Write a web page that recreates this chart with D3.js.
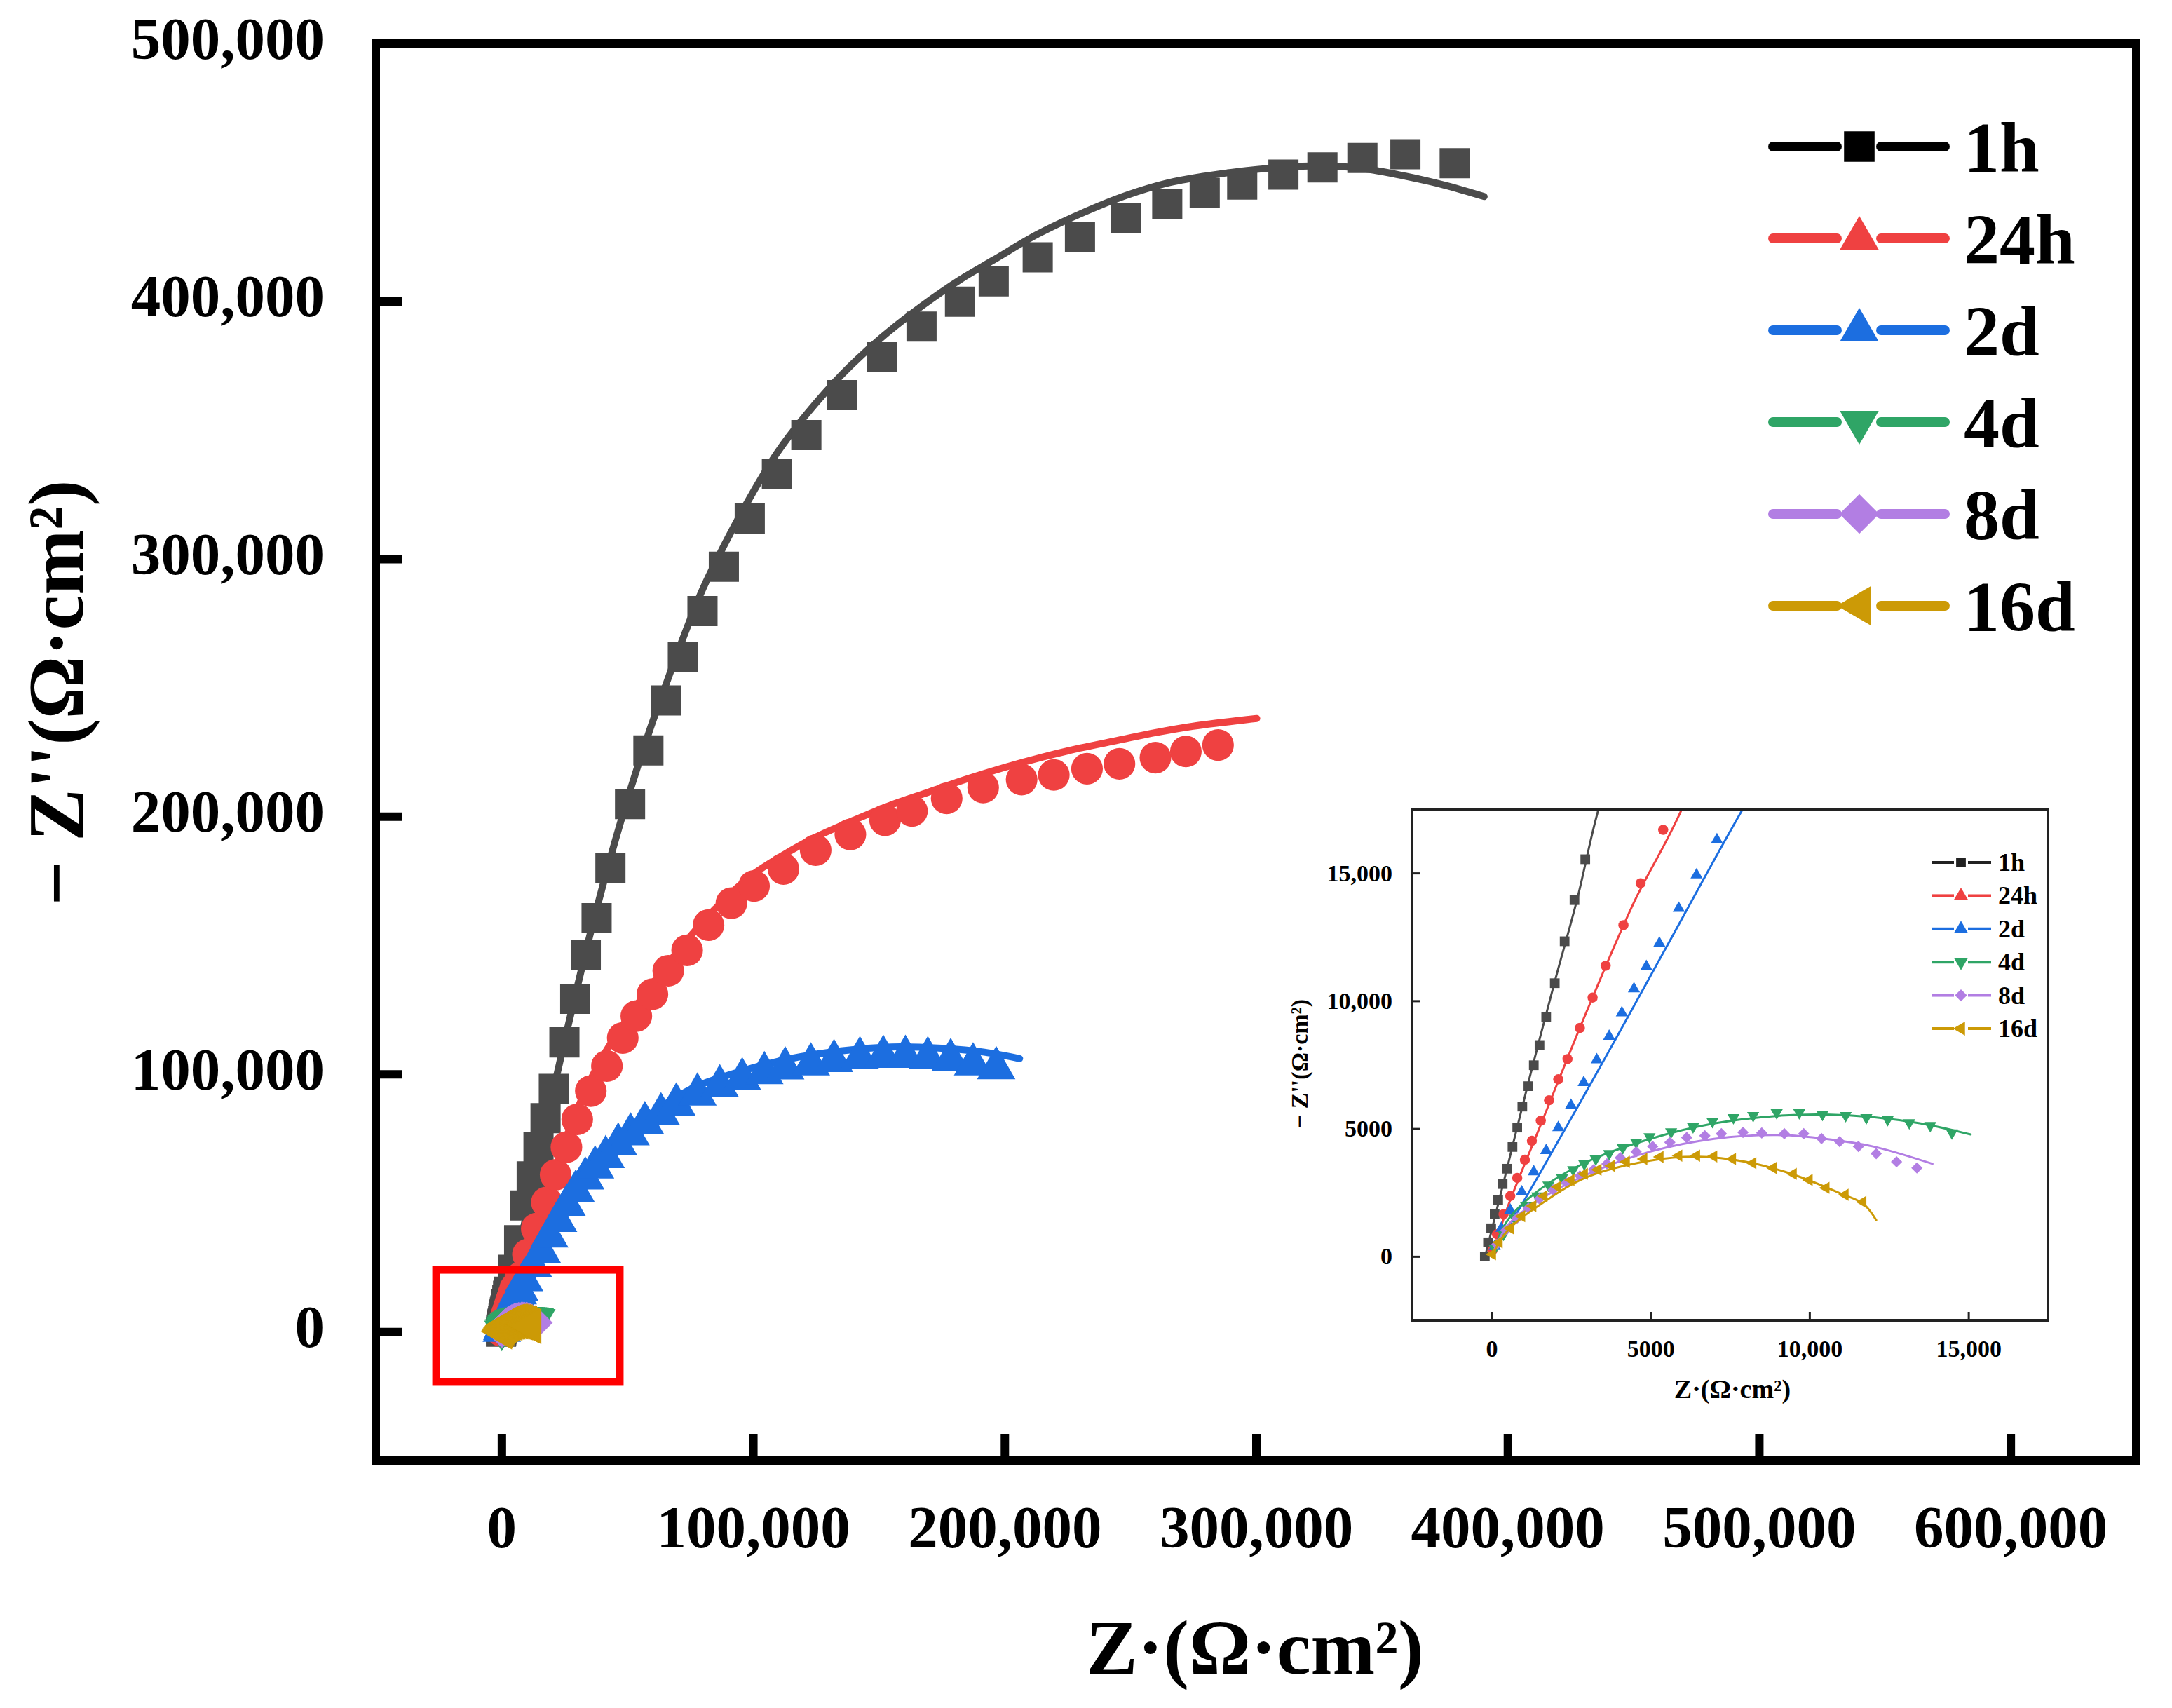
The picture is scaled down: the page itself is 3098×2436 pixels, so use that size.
<!DOCTYPE html>
<html>
<head>
<meta charset="utf-8">
<script src="https://cdn.jsdelivr.net/npm/d3@7"></script>
<style>
  body { margin: 0; background: #fff; }
  svg text { font-family: "Liberation Serif", "Times New Roman", serif; font-weight: bold; fill: #000; }
</style>
</head>
<body>
<svg id="chart" width="3098" height="2436"></svg>
<script>
const K = 1000;

const seriesNames = ["1h", "24h", "2d", "4d", "8d", "16d"];
const seriesColors = ["#4b4b4b", "#ef4141", "#1c6ee0", "#2fa566", "#b27ee3", "#cc9a06"];
const legendColors = ["#000000", "#ef4141", "#1c6ee0", "#2fa566", "#b27ee3", "#cc9a06"];
const markerShapes = ["square", "circle", "triangle", "triangleDown", "diamond", "triangleLeft"];
const legendShapes = ["square", "triangle", "triangle", "triangleDown", "diamond", "triangleLeft"];

const xTicksMain = [0, 100000, 200000, 300000, 400000, 500000, 600000];
const yTicksMain = [0, 100000, 200000, 300000, 400000, 500000];
const xTicksInset = [0, 5000, 10000, 15000];
const yTicksInset = [0, 5000, 10000, 15000];

// measured points
const pts1h = [[-0.21,0.0],[-0.11,0.55],[-0.01,1.10],[0.10,1.65],[0.21,2.20],[0.35,2.83],[0.49,3.43],[0.66,4.28],
  [0.81,5.04],[0.97,5.86],[1.16,6.66],[1.33,7.48],[1.51,8.27],[1.72,9.37],[1.99,10.69],[2.30,12.33],[2.61,13.94],
  [2.95,15.54],[4.5,24],[7,35.5],[9.5,49],[12,60.3],[14.7,71.6],[17.5,82.9],[20.8,94.2],[25.0,112.3],[29.3,129.2],
  [33.5,146.1],[37.8,160.5],[43.3,180],[51.1,204.8],[58.4,225.6],[65.3,245],[72.1,261.9],[79.9,279.7],[88.4,296.9],
  [98.7,315.6],[109.5,333],[121.2,348],[135.3,363.5],[151.3,378.2],[167,390.1],[182.3,399.8],[195.7,407.7],
  [213.2,417],[230,424.8],[248.3,432.3],[264.7,437.8],[279.6,442],[294.5,445.2],[310.9,449.1],[326.4,451.9],
  [342.3,455.6],[359.4,457],[379,453.5]];
const pts24h = [[0.03,0.24],[0.17,0.87],[0.38,1.65],[0.59,2.36],[0.81,3.07],[1.05,3.78],[1.27,4.52],[1.55,5.31],
  [1.81,6.11],[2.10,6.93],[2.39,7.72],[2.78,8.94],[3.18,10.13],[3.59,11.37],[4.15,12.96],[4.69,14.60],[5.40,16.69],
  [7.5,21],[10.5,30],[14,40],[18,50.2],[21.5,60.9],[25.8,71.6],[30.1,82.4],[35.5,93.4],[41.9,103.1],[48.2,114],
  [53.6,122.5],[60,131],[66.3,140.1],[73.8,148],[82.3,157.8],[91.4,166.3],[100.4,173],[112.1,179.6],[124.9,186.9],
  [138.7,193],[152.5,198.5],[163.2,202.1],[177,207],[191.5,211.2],[206.8,214.3],[219.6,216.1],[232.8,218.5],
  [245.7,220.4],[260,222.8],[272.1,225.2],[284.9,227.7]];
const pts2d = [[0.10,0.39],[0.31,1.10],[0.59,1.81],[0.95,2.52],[1.33,3.31],[1.72,4.14],[2.10,5.04],[2.50,5.91],
  [2.90,6.80],[3.31,7.69],[3.70,8.61],[4.10,9.53],[4.48,10.47],[4.87,11.34],[5.28,12.25],[5.89,13.62],[6.45,14.93],
  [7.09,16.30],[9,20],[12.5,25.5],[16,31],[19,37],[22.5,43],[26,49],[29.5,54.5],[33.3,59.5],[37.2,63.8],[41.4,67.8],
  [46.4,72.7],[51.3,76.6],[57,81],[63.4,84.4],[69.5,88.2],[77.9,92.1],[86.8,95.3],[95.7,98],[104.5,100.4],
  [112.8,102.2],[123,103.8],[132.2,105.1],[142.5,106.2],[151.8,106.7],[160.6,106.7],[169.5,106.2],[178.6,105.5],
  [187.5,103.8],[196.7,102.3]];
const pts4d = [[0.10,0.31],[0.38,0.87],[0.73,1.50],[1.09,1.97],[1.44,2.36],[1.79,2.79],[2.22,3.07],[2.57,3.39],
  [2.92,3.62],[3.28,3.81],[3.70,4.02],[4.13,4.25],[4.55,4.46],[4.97,4.68],[5.65,4.87],[6.34,5.07],[6.95,5.28],
  [7.61,5.43],[8.23,5.51],[8.97,5.62],[9.68,5.62],[10.41,5.56],[11.14,5.51],[11.79,5.43],[12.46,5.35],[13.14,5.23],
  [13.80,5.12],[14.48,4.83]];
const pts8d = [[0.17,0.47],[0.45,1.02],[0.81,1.50],[1.16,1.89],[1.51,2.25],[1.94,2.60],[2.36,2.88],[2.78,3.15],
  [3.21,3.39],[3.63,3.62],[4.05,3.86],[4.55,4.09],[5.07,4.30],[5.61,4.46],[6.14,4.65],[6.71,4.72],[7.23,4.80],
  [7.91,4.85],[8.50,4.83],[9.21,4.80],[9.82,4.80],[10.38,4.61],[10.95,4.49],[11.54,4.30],[12.10,4.02],[12.74,3.70],
  [13.38,3.46]];
const pts16d = [[0.03,0.08],[0.24,0.55],[0.59,1.10],[0.95,1.57],[1.30,1.97],[1.65,2.36],[2.08,2.72],[2.50,2.99],
  [2.92,3.23],[3.35,3.39],[3.77,3.54],[4.24,3.70],[4.79,3.81],[5.30,3.89],[5.89,3.94],[6.45,3.94],[6.99,3.91],
  [7.58,3.81],[8.22,3.65],[8.86,3.46],[9.49,3.23],[9.99,2.99],[10.52,2.68],[11.12,2.41],[11.68,2.13]];

// fitted curves
const fit1h = [[-0.2,0],[0.5,3.5],[1.2,7],[2.0,10.8],[2.7,14],[3.35,17.43],[5,24],[10,46],[15,69],[20,91],[25,112.5],
  [29.3,130.5],[33.5,147.5],[37.8,164],[43.3,184],[51.1,210],[58.4,232],[65.3,251],[72.1,269],[79.9,288],[88.4,305],
  [98.7,323.6],[109.5,341],[121.2,356],[135.3,371.5],[151.3,386],[167,398],[182.3,408.3],[195.7,416],[213.2,426],
  [230,433.8],[248.3,441],[264.7,445.8],[279.6,448.5],[294.5,450.5],[310.9,452],[326.4,452.5],[342.3,451.5],
  [359.4,448.5],[375,445],[390.7,440.6]];
const fit24h = [[0,0],[0.5,1.9],[1.5,5.0],[3.0,9.6],[4.5,13.9],[5.96,17.43],[10,30],[14,42],[18,54],[22,65],[26,76],
  [30,86],[35,97],[41,108],[50,121.5],[60,135],[70,147.5],[80,159],[90,169],[100,177.5],[112,185],[125,192],
  [140,198.5],[155,204.5],[170,209.5],[185,214.5],[200,219],[215,223],[230,226.5],[245,229.5],[260,232.5],
  [275,235],[300.3,238]];
const fit2d = [[0,0],[1.5,3.2],[3.5,7.6],[5.5,12.1],[7.87,17.43],[11,24],[15,31.5],[20,41],[26,51],[33,61],[41,70],
  [51,79],[63,87],[77,95],[95,101],[115,106],[135,109],[155,110.5],[175,110],[192,108.5],[206,106]];
const fit4d = [[0,0],[0.5,1.4],[1.5,2.6],[3,3.7],[5,4.6],[7,5.2],[9,5.5],[10.5,5.55],[12,5.45],[13.5,5.2],[15.07,4.77]];
const fit8d = [[0,0],[0.5,1.2],[1.5,2.2],[3,3.2],[5,4.1],[7,4.6],[9,4.75],[10.5,4.6],[12,4.3],[13.87,3.62]];
const fit16d = [[0,0],[0.5,1.0],[1.5,2.0],[3,3.1],[5,3.75],[6.5,3.9],[8,3.7],[9.5,3.2],[11,2.45],[11.7,2.05],[12.1,1.42]];

const allPts = [pts1h, pts24h, pts2d, pts4d, pts8d, pts16d];
const allFits = [fit1h, fit24h, fit2d, fit4d, fit8d, fit16d];

// zoom box drawn on the main plot, in Ohm*cm2
const zoomBoxX = [-26000, 47000];
const zoomBoxY = [-19500, 24000];

const svg = d3.select("#chart");

const symbolTypes = {
  square: d3.symbolSquare, circle: d3.symbolCircle, diamond: d3.symbolSquare,
  triangle: d3.symbolTriangle, triangleDown: d3.symbolTriangle, triangleLeft: d3.symbolTriangle
};
const symbolRotate = { square: 0, circle: 0, diamond: 45, triangle: 0, triangleDown: 180, triangleLeft: -90 };

function drawSeries(g, xs, ys, sizes, lineWidth) {
  const line = d3.line()
    .x(d => xs(d[0] * K))
    .y(d => ys(d[1] * K))
    .curve(d3.curveCatmullRom);

  seriesNames.forEach((name, i) => {
    const shape = markerShapes[i];
    g.append("path")
      .attr("d", line(allFits[i]))
      .attr("fill", "none")
      .attr("stroke", seriesColors[i])
      .attr("stroke-width", lineWidth)
      .attr("stroke-linecap", "round")
      .attr("stroke-linejoin", "round");

    g.append("g").selectAll("path")
      .data(allPts[i])
      .join("path")
      .attr("d", d3.symbol().type(symbolTypes[shape]).size(sizes[shape]))
      .attr("transform", d => `translate(${xs(d[0] * K)},${ys(d[1] * K)}) rotate(${symbolRotate[shape]})`)
      .attr("fill", seriesColors[i]);
  });
}

// ---------- main plot ----------
const x = d3.scaleLinear().domain([-50000, 650000]).range([536, 3047]);
const y = d3.scaleLinear().domain([-50000, 500000]).range([2083, 62]);

svg.append("clipPath").attr("id", "mainClip")
  .append("rect")
  .attr("x", x(-50000)).attr("y", y(500000))
  .attr("width", x(650000) - x(-50000)).attr("height", y(-50000) - y(500000));

const mainData = svg.append("g").attr("clip-path", "url(#mainClip)");
drawSeries(mainData, x, y,
  { square: 1850, circle: 1600, triangle: 1300, triangleDown: 1100, diamond: 1250, triangleLeft: 1150 }, 10);

svg.append("rect")
  .attr("x", x(zoomBoxX[0])).attr("y", y(zoomBoxY[1]))
  .attr("width", x(zoomBoxX[1]) - x(zoomBoxX[0]))
  .attr("height", y(zoomBoxY[0]) - y(zoomBoxY[1]))
  .attr("fill", "none").attr("stroke", "#ff0000").attr("stroke-width", 11);

const xAxis = svg.append("g")
  .attr("transform", `translate(0,${y(-50000)})`)
  .call(d3.axisBottom(x).tickValues(xTicksMain).tickSize(-38).tickPadding(64).tickFormat(d3.format(",")));
const yAxis = svg.append("g")
  .attr("transform", `translate(${x(-50000)},0)`)
  .call(d3.axisLeft(y).tickValues(yTicksMain).tickSize(-38).tickPadding(73).tickFormat(d3.format(",")));

[xAxis, yAxis].forEach(a => {
  a.select(".domain").remove();
  a.selectAll(".tick line").attr("stroke", "#000").attr("stroke-width", 12);
  a.selectAll(".tick text").style("font-size", "85px");
});
yAxis.selectAll(".tick text").attr("dy", "0.25em");

svg.append("rect")
  .attr("x", x(-50000)).attr("y", y(500000))
  .attr("width", x(650000) - x(-50000)).attr("height", y(-50000) - y(500000))
  .attr("fill", "none").attr("stroke", "#000").attr("stroke-width", 12);

svg.append("text")
  .attr("x", 1790).attr("y", 2387)
  .attr("text-anchor", "middle")
  .style("font-size", "110px")
  .text("Z·(Ω·cm²)");

svg.append("text")
  .attr("transform", "translate(80,988) rotate(-90)")
  .attr("text-anchor", "middle")
  .attr("dominant-baseline", "central")
  .style("font-size", "112px")
  .text("− Z''(Ω·cm²)");

// main legend
const legend = svg.append("g");
seriesNames.forEach((name, i) => {
  const ly = 209 + i * 131;
  const row = legend.append("g");
  [[2529, 2620], [2683, 2774]].forEach(seg => {
    row.append("line")
      .attr("x1", seg[0]).attr("x2", seg[1]).attr("y1", ly).attr("y2", ly)
      .attr("stroke", legendColors[i]).attr("stroke-width", 14).attr("stroke-linecap", "round");
  });
  const shape = legendShapes[i];
  const sizes = { square: 1900, triangle: 1330, triangleDown: 1330, diamond: 1600, triangleLeft: 1330 };
  row.append("path")
    .attr("d", d3.symbol().type(symbolTypes[shape]).size(sizes[shape]))
    .attr("transform", `translate(2652,${ly}) rotate(${symbolRotate[shape]})`)
    .attr("fill", legendColors[i]);
  row.append("text")
    .attr("x", 2801).attr("y", ly + 36)
    .style("font-size", "102px")
    .text(name);
});

// ---------- inset ----------
const xi = d3.scaleLinear().domain([-2500, 17500]).range([2014, 2921]);
const yi = d3.scaleLinear().domain([-2500, 17500]).range([1883, 1154]);
const insetFmt = d => d >= 10000 ? d3.format(",")(d) : String(d);

const inset = svg.append("g");
inset.append("rect")
  .attr("x", xi(-2500)).attr("y", yi(17500))
  .attr("width", xi(17500) - xi(-2500)).attr("height", yi(-2500) - yi(17500))
  .attr("fill", "#fff");

svg.append("clipPath").attr("id", "insetClip")
  .append("rect")
  .attr("x", xi(-2500)).attr("y", yi(17500))
  .attr("width", xi(17500) - xi(-2500)).attr("height", yi(-2500) - yi(17500));

const insetData = inset.append("g").attr("clip-path", "url(#insetClip)");
drawSeries(insetData, xi, yi,
  { square: 190, circle: 165, triangle: 130, triangleDown: 130, diamond: 130, triangleLeft: 130 }, 3);

const xiAxis = inset.append("g")
  .attr("transform", `translate(0,${yi(-2500)})`)
  .call(d3.axisBottom(xi).tickValues(xTicksInset).tickSize(-12).tickPadding(28).tickFormat(insetFmt));
const yiAxis = inset.append("g")
  .attr("transform", `translate(${xi(-2500)},0)`)
  .call(d3.axisLeft(yi).tickValues(yTicksInset).tickSize(-12).tickPadding(28).tickFormat(insetFmt));
[xiAxis, yiAxis].forEach(a => {
  a.select(".domain").remove();
  a.selectAll(".tick line").attr("stroke", "#222").attr("stroke-width", 3);
  a.selectAll(".tick text").style("font-size", "34px");
});

inset.append("rect")
  .attr("x", xi(-2500)).attr("y", yi(17500))
  .attr("width", xi(17500) - xi(-2500)).attr("height", yi(-2500) - yi(17500))
  .attr("fill", "none").attr("stroke", "#222").attr("stroke-width", 4);

inset.append("text")
  .attr("x", 2471).attr("y", 1994)
  .attr("text-anchor", "middle")
  .style("font-size", "38px")
  .text("Z·(Ω·cm²)");
inset.append("text")
  .attr("transform", "translate(1853,1517) rotate(-90)")
  .attr("text-anchor", "middle")
  .attr("dominant-baseline", "central")
  .style("font-size", "34px")
  .text("− Z''(Ω·cm²)");

seriesNames.forEach((name, i) => {
  const ly = 1230 + i * 47.4;
  [[2755, 2787], [2807, 2840]].forEach(seg => {
    inset.append("line")
      .attr("x1", seg[0]).attr("x2", seg[1]).attr("y1", ly).attr("y2", ly)
      .attr("stroke", seriesColors[i] === "#4b4b4b" ? "#222" : seriesColors[i])
      .attr("stroke-width", 4);
  });
  const shape = legendShapes[i];
  const sizes = { square: 190, triangle: 170, triangleDown: 170, diamond: 150, triangleLeft: 170 };
  inset.append("path")
    .attr("d", d3.symbol().type(symbolTypes[shape]).size(sizes[shape]))
    .attr("transform", `translate(2797,${ly}) rotate(${symbolRotate[shape]})`)
    .attr("fill", seriesColors[i] === "#4b4b4b" ? "#222" : seriesColors[i]);
  inset.append("text")
    .attr("x", 2850).attr("y", ly + 12)
    .style("font-size", "36px")
    .text(name);
});
</script>
</body>
</html>
